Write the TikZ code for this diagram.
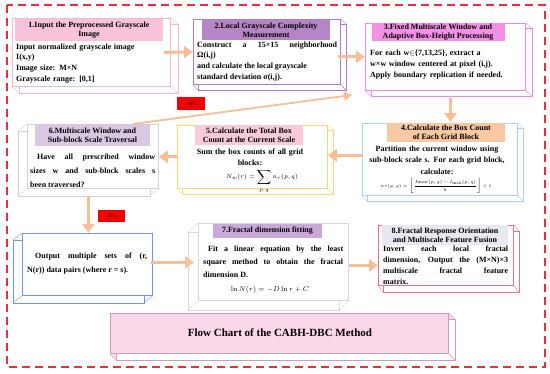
\documentclass[tikz,border=0pt]{standalone}
\usepackage[no-math]{fontspec}
\setmainfont{Liberation Serif}
\usetikzlibrary{calc,arrows.meta,backgrounds}
\definecolor{arrc}{HTML}{F8BE96}
\definecolor{dashc}{HTML}{EE2D3C}
\definecolor{c1}{HTML}{F2B8CC}
\definecolor{h1c}{HTML}{F8C2DA}
\definecolor{c2}{HTML}{B07CC8}
\definecolor{h2c}{HTML}{B585C6}
\definecolor{c3}{HTML}{F08ADE}
\definecolor{h3c}{HTML}{F490E6}
\definecolor{c4}{HTML}{B0CFEE}
\definecolor{h4c}{HTML}{F8C8A2}
\definecolor{c5}{HTML}{F8D878}
\definecolor{h5c}{HTML}{F8CADA}
\definecolor{c6}{HTML}{D2D2DA}
\definecolor{h6c}{HTML}{DAC8E2}
\definecolor{co}{HTML}{7896D6}
\definecolor{c7}{HTML}{D8D8DC}
\definecolor{h7c}{HTML}{C9A9D9}
\definecolor{c8}{HTML}{E07686}
\definecolor{h8c}{HTML}{E8E8F0}
\definecolor{tfill}{HTML}{FAD8EA}
\definecolor{tline}{HTML}{C8A2B4}
\definecolor{labred}{HTML}{F20000}
\newcommand\mybackface[4]{%
  \begin{scope}[on background layer]
    \draw[#4,fill=white] ($(#1.north west)+(#2,#3)$) rectangle ($(#1.south east)+(#2,#3)$);
    \foreach \aa in {north west,north east,south west,south east}
      \draw[#4] (#1.\aa) -- ($(#1.\aa)+(#2,#3)$);
  \end{scope}}
\tikzset{
  frontbox/.style={draw=#1,fill=white,line width=0.8pt,inner sep=0pt,anchor=north west},
  hdr/.style={inner sep=0pt,align=center,font=\bfseries\fontsize{8}{9.3}\selectfont},
  body/.style={inner sep=0pt,anchor=north west,font=\bfseries\fontsize{8}{10.7}\selectfont},
  arr/.style={draw=arrc,line width=3pt,-{Triangle[length=9pt,width=12pt]}},
  lab/.style={fill=labred,inner sep=0pt,font=\bfseries\itshape\fontsize{5}{6}\selectfont,text=black!70!red},
}
\begin{document}
\begin{tikzpicture}[x=1pt,y=-1pt]
\useasboundingbox (0,0) rectangle (550,374);
% outer dashed frame
\draw[dashc,line width=1.4pt,dash pattern=on 8pt off 5pt] (7,5) rectangle (545,367) node[pos=0,inner sep=0pt] (frame) {};
% boxes (front faces)
\node[frontbox=c1,minimum width=158pt,minimum height=68pt] (b1) at (12,18) {};
\node[frontbox=c2,minimum width=147pt,minimum height=65pt] (b2) at (193,19) {};
\node[frontbox=c3,minimum width=160pt,minimum height=67pt] (b3) at (365,23) {};
\node[frontbox=c4,minimum width=155pt,minimum height=72pt] (b4) at (362,123) {};
\node[frontbox=c5,minimum width=150pt,minimum height=63pt] (b5) at (177,125) {};
\node[frontbox=c6,minimum width=131pt,minimum height=64pt] (b6) at (27,124) {};
\node[frontbox=co,minimum width=130pt,minimum height=62pt] (bo) at (22,233) {};
\node[frontbox=c7,minimum width=150pt,minimum height=77pt] (b7) at (198,223) {};
\node[frontbox=c8,minimum width=135pt,minimum height=60pt] (b8) at (378,225) {};
\node[frontbox=tline,fill=tfill,minimum width=338pt,minimum height=40pt] (bt) at (110,313) {};
\mybackface{b1}{7}{6}{c1}
\mybackface{b2}{5}{5}{c2}
\mybackface{b3}{6}{5}{c3}
\mybackface{b4}{5}{5}{c4}
\mybackface{b5}{5}{5}{c5}
\mybackface{b6}{-9}{7}{c6}
\mybackface{bo}{-9}{7}{co}
\mybackface{b7}{-10}{9}{c7}
\mybackface{b8}{5}{6}{c8}
\begin{scope}[on background layer]
  \fill[tfill] (bt.north east) -- ($(bt.north east)+(6,6)$) -- ($(bt.south east)+(6,6)$) -- ($(bt.south west)+(6,6)$) -- (bt.south west) -- cycle;
\end{scope}
\mybackface{bt}{6}{6}{tline}
% headers
\node[hdr,fill=h1c,minimum width=148pt,minimum height=22pt] (h1) at (89,30) {1.Input the Preprocessed Grayscale\\Image};
\node[hdr,fill=h2c,minimum width=128pt,minimum height=20pt] (h2) at (266,30) {2.Local Grayscale Complexity\\Measurement};
\node[hdr,fill=h3c,minimum width=133pt,minimum height=18pt] (h3) at (438,32) {3.Fixed Multiscale Window and\\Adaptive Box-Height Processing};
\node[hdr,fill=h4c,minimum width=118pt,minimum height=19pt] (h4) at (446,132.5) {4.Calculate the Box Count\\of Each Grid Block};
\node[hdr,fill=h5c,minimum width=108pt,minimum height=20pt] (h5) at (249,135) {5.Calculate the Total Box\\Count at the Current Scale};
\node[hdr,fill=h6c,minimum width=115pt,minimum height=22pt] (h6) at (92.5,135) {6.Multiscale Window and\\Sub-block Scale Traversal};
\node[hdr,fill=h7c,minimum width=109pt,minimum height=14pt] (h7) at (267.5,231) {7.Fractal dimension fitting};
\node[hdr,fill=h8c,minimum width=126pt,minimum height=20pt] (h8) at (445,235) {8.Fractal Response Orientation\\and Multiscale Feature Fusion};
% bodies
\node[body,text width=150pt,align=left] (t1) at (16,43.5) {Input normalized grayscale image\\I(x,y)\\Image size: M×N\\Grayscale range: [0,1]};
\node[body,text width=140pt,align=justify] (t2) at (197,41.5) {Construct a 15×15 neighborhood\linebreak Ω(i,j)\\and calculate the local grayscale\\standard deviation σ(i,j).};
\node[body,text width=150pt,align=left,font=\bfseries\fontsize{8}{11}\selectfont] (t3) at (370,49.5) {For each w$\in$\{7,13,25\}, extract a\\w×w window centered at pixel (i,j).\\Apply boundary replication if needed.};
\node[body,anchor=north,text width=150pt,align=center,font=\bfseries\fontsize{8}{11.5}\selectfont] (t4) at (437,145.5) {Partition the current window using\\sub-block scale s. For each grid block,\\calculate:};
\node[inner sep=0pt,font=\fontsize{5}{6}\selectfont,scale=0.85] (f4) at (436,186) {$\displaystyle n_r(p,q)=\left\lfloor\frac{I_{\max}(p,q)-I_{\min}(p,q)}{h}\right\rfloor+1$};
\node[body,anchor=north,text width=140pt,align=center,font=\bfseries\fontsize{8}{11}\selectfont] (t5) at (250,148.5) {Sum the box counts of all grid\\blocks:};
\node[inner sep=0pt,font=\fontsize{6}{7}\selectfont] (f5) at (262,181) {$\displaystyle N_w(r)=\sum_{p,q}n_r(p,q)$};
\node[body,text width=125pt,align=justify,font=\bfseries\fontsize{8}{14}\selectfont] (t6) at (30,153.5) {\hspace*{7pt}Have all prescribed window\linebreak sizes w and sub-block scales s\linebreak been traversed?};
\node[body,text width=120pt,align=justify,font=\bfseries\fontsize{8}{14}\selectfont] (to) at (27,252.5) {\hspace*{8pt}Output multiple sets of (r,\linebreak N(r)) data pairs (where r = s).};
\node[body,text width=140pt,align=justify,font=\bfseries\fontsize{8}{13.3}\selectfont] (t7) at (203,245.5) {\hspace*{5pt}Fit a linear equation by the least\linebreak square method to obtain the fractal\linebreak dimension D.};
\node[inner sep=0pt,font=\fontsize{7.5}{9}\selectfont] (f7) at (270,290) {$\ln N(r)=-D\ln r+C$};
\node[body,text width=125pt,align=justify,font=\bfseries\fontsize{8}{11.2}\selectfont] (t8) at (383,245.5) {Invert each local fractal\linebreak dimension, Output the (M×N)×3\linebreak multiscale fractal feature\linebreak matrix.};
\node[inner sep=0pt,font=\bfseries\fontsize{11}{13}\selectfont] (tt) at (280,333) {Flow Chart of the CABH-DBC Method};
% labels
\node[lab,minimum width=28pt,minimum height=13pt] (no) at (191,103.5) {NO};
\node[lab,minimum width=27pt,minimum height=12pt] (yes) at (111.5,216) {Yes};
% connectors
\coordinate (a23) at (b2.east |- b3.west);
\coordinate (a78) at ($(b7.east)+(0,3.5)$);
\coordinate (noT) at (352,95);
\draw[arr] ($(b1.east)+(-7,0)$) -- (b2.west);
\draw[arr] ($(a23)+(-3,0)$) -- (b3.west);
\draw[arr] ($(b3.south)+(5,7)$) -- ($(b4.north)+(10.5,-1)$);
\draw[arr] ($(b4.west)+(0,-4)$) -- ($(b5.east)+(0,-1.5)$);
\draw[arr] (b5.west) -- (b5.west -| b6.east);
\draw[draw=arrc,line width=1.8pt,-{Triangle[length=8pt,width=9pt]}] ($(b6.north)+(40,0)$) -- (noT);
\draw[arr] ($(b6.south)+(-4.5,8)$) -- ($(bo.north)+(1,0)$);
\draw[arr] ($(bo.east)+(-2,-2)$) -- ($(b7.west)+(-4,0.5)$);
\draw[arr] (a78) -- (a78 -| b8.west);
\end{tikzpicture}
\end{document}
